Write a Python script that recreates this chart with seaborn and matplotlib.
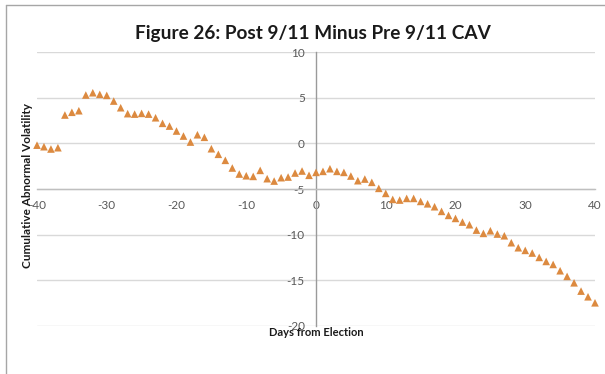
import matplotlib
matplotlib.use("Agg")
import matplotlib.pyplot as plt
import seaborn as sns
import pandas as pd
from matplotlib.lines import Line2D

days = list(range(-40, 41))
cav = [-0.20, -0.37, -0.62, -0.48, 3.10, 3.40, 3.57, 5.29, 5.54, 5.36,
       5.25, 4.63, 3.90, 3.25, 3.20, 3.28, 3.20, 2.80, 2.19, 1.89,
       1.35, 0.80, 0.14, 0.94, 0.66, -0.59, -1.20, -1.86, -2.70, -3.36,
       -3.55, -3.62, -2.96, -3.87, -4.13, -3.76, -3.69, -3.25, -3.03, -3.50,
       -3.18, -3.07, -2.78, -3.07, -3.18, -3.58, -4.09, -3.91, -4.27, -4.93,
       -5.48, -6.14, -6.21, -6.03, -6.03, -6.36, -6.62, -6.94, -7.45, -7.89,
       -8.22, -8.62, -8.91, -9.50, -9.86, -9.57, -9.93, -10.12, -10.88, -11.43,
       -11.72, -12.01, -12.49, -12.93, -13.26, -13.95, -14.57, -15.27, -16.18, -16.80,
       -17.46]
x_ticks = [-40, -30, -20, -10, 0, 10, 20, 30, 40]
y_ticks = [-20, -15, -10, -5, 0, 5, 10]
title = "Figure 26: Post 9/11 Minus Pre 9/11 CAV"
xlabel = "Days from Election"
ylabel = "Cumulative Abnormal Volatility"

sns.set_style("white")
plt.rcParams['font.family'] = ['Lato', 'DejaVu Sans']

df = pd.DataFrame({"day": days, "cav": cav})

fig = plt.figure(figsize=(6.05, 3.74), dpi=100)
ax = fig.add_axes([37/605, 1-326/374, 558/605, 274/374])

sns.scatterplot(data=df, x="day", y="cav", marker="^", s=30, color="#DC8A40",
                edgecolor="none", ax=ax, clip_on=False, zorder=5)

ax.set_xlim(-40, 40)
ax.set_ylim(-20, 10)
ax.set_xticks(x_ticks)
ax.set_yticks(y_ticks)
ax.set_xticklabels([str(v) for v in x_ticks])
ax.set_yticklabels([str(v) for v in y_ticks])

for v in y_ticks:
    ax.axhline(v, color="#D9D9D9", lw=1.0, zorder=0)

for s in ["top", "right"]:
    ax.spines[s].set_visible(False)
ax.spines["left"].set_position(("data", 0))
ax.spines["left"].set_color("#9A9A9A")
ax.spines["left"].set_linewidth(1.0)
ax.spines["bottom"].set_position(("data", -5))
ax.spines["bottom"].set_color("#BFBFBF")
ax.spines["bottom"].set_linewidth(1.0)

ax.tick_params(axis="both", length=0, labelsize=8.5, colors="#595959")
ax.tick_params(axis="x", pad=8)
ax.tick_params(axis="y", pad=8)

ax.set_xlabel("")
ax.set_ylabel("")
fig.text(316/605, 1-333/374, xlabel, ha="center", va="center",
         fontsize=8, fontweight="bold", color="#1a1a1a")
fig.text(28/605, 1-186/374, ylabel, ha="center", va="center", rotation=90,
         fontsize=8.5, fontweight="bold", color="#1a1a1a")
fig.text(313/605, 1-33/374, title, ha="center", va="center",
         fontsize=13.7, fontweight="bold", color="#1a1a1a")

fig.add_artist(Line2D([6/605, 6/605], [0, 1-5/374], transform=fig.transFigure,
                      color="#A6A6A6", lw=1.0))
fig.add_artist(Line2D([6/605, 1], [1-5/374, 1-5/374], transform=fig.transFigure,
                      color="#A6A6A6", lw=1.0))

fig.savefig("out.png", dpi=100)
